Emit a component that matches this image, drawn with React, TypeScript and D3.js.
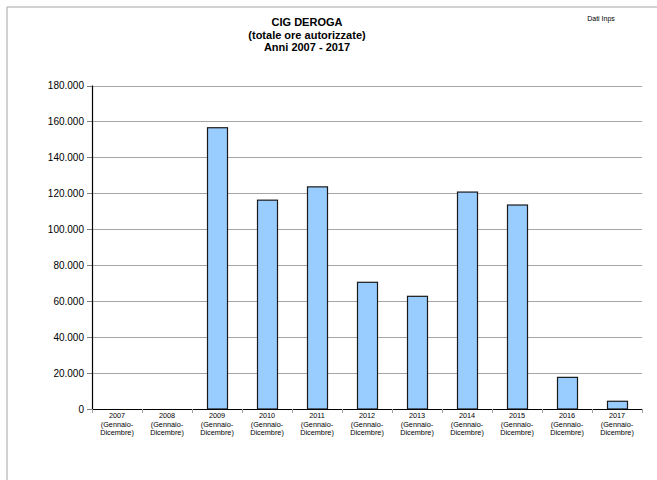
import React from "react";
import * as d3 from "d3";

const years = ["2007", "2008", "2009", "2010", "2011", "2012", "2013", "2014", "2015", "2016", "2017"];
const values = [0, 0, 156500, 116200, 123600, 70500, 62700, 120700, 113500, 17600, 4300];
const yTicks = [0, 20000, 40000, 60000, 80000, 100000, 120000, 140000, 160000, 180000];
const titleLines = ["CIG DEROGA", "(totale ore autorizzate)", "Anni 2007 - 2017"];
const subLines = ["(Gennaio-", "Dicembre)"];

const W = 657;
const H = 480;
const left = 92;
const right = 642;
const top = 85.5;
const bottom = 409;

const fmt = d3
  .formatLocale({ thousands: ".", decimal: ",", grouping: [3], currency: ["", ""] })
  .format(",d");

export default function App() {
  const x = d3.scaleBand<string>().domain(years).range([left, right]).paddingInner(0.6).paddingOuter(0.3);
  const y = d3.scaleLinear().domain([0, 180000]).range([bottom, top]);
  const step = x.step();
  const font = "Arial, 'Liberation Sans', Helvetica, sans-serif";

  return (
    <svg
      width={W}
      height={H}
      style={{ position: "absolute", left: 0, top: 0, background: "#fff" }}
      fontFamily={font}
    >
      <rect x={0} y={0} width={W} height={H} fill="#fff" />
      {/* outer frame */}
      <line x1={7} y1={7} x2={W} y2={7} stroke="#a6a6a6" strokeWidth={1} />
      <line x1={7} y1={7} x2={7} y2={H} stroke="#a6a6a6" strokeWidth={1} />

      {/* title */}
      {titleLines.map((t, i) => (
        <text key={t} x={307} y={26 + i * 12.5} textAnchor="middle" fontSize={11} fontWeight="bold" fill="#000">
          {t}
        </text>
      ))}
      <text x={601} y={21} textAnchor="middle" fontSize={7} fill="#000">
        Dati Inps
      </text>

      {/* gridlines */}
      {yTicks.filter((t) => t > 0).map((t) => (
        <line key={t} x1={left} x2={right} y1={Math.round(y(t)) + 0.5} y2={Math.round(y(t)) + 0.5} stroke="#a6a6a6" strokeWidth={1} />
      ))}

      {/* y ticks and labels */}
      {yTicks.map((t) => (
        <g key={t}>
          <line x1={left - 5} x2={left} y1={Math.round(y(t)) + 0.5} y2={Math.round(y(t)) + 0.5} stroke="#808080" />
          <text x={84} y={y(t) + 3.5} textAnchor="end" fontSize={10} fill="#000">
            {fmt(t)}
          </text>
        </g>
      ))}

      {/* bars */}
      {years.map((yr, i) =>
        values[i] > 0 ? (
          <rect
            key={yr}
            x={(x(yr) as number) + 0.5}
            y={y(values[i])}
            width={x.bandwidth()}
            height={bottom - y(values[i])}
            fill="#99ccff"
            stroke="#1a1a1a"
            strokeWidth={1.2}
          />
        ) : null
      )}

      {/* axes */}
      <line x1={left + 0.5} x2={left + 0.5} y1={top} y2={bottom} stroke="#000" strokeWidth={1.2} />
      <line x1={left} x2={right} y1={bottom + 0.5} y2={bottom + 0.5} stroke="#000" strokeWidth={1.2} />
      {d3.range(years.length + 1).map((i) => (
        <line key={i} x1={left + i * step + 0.5} x2={left + i * step + 0.5} y1={bottom} y2={bottom + 4} stroke="#a0a0a0" />
      ))}

      {/* x labels */}
      {years.map((yr) => {
        const cx = (x(yr) as number) + x.bandwidth() / 2;
        return (
          <text key={yr} x={cx} textAnchor="middle" fontSize={7.3} fill="#000">
            <tspan x={cx} y={418}>{yr}</tspan>
            <tspan x={cx} y={426.5}>{subLines[0]}</tspan>
            <tspan x={cx} y={435}>{subLines[1]}</tspan>
          </text>
        );
      })}
    </svg>
  );
}
